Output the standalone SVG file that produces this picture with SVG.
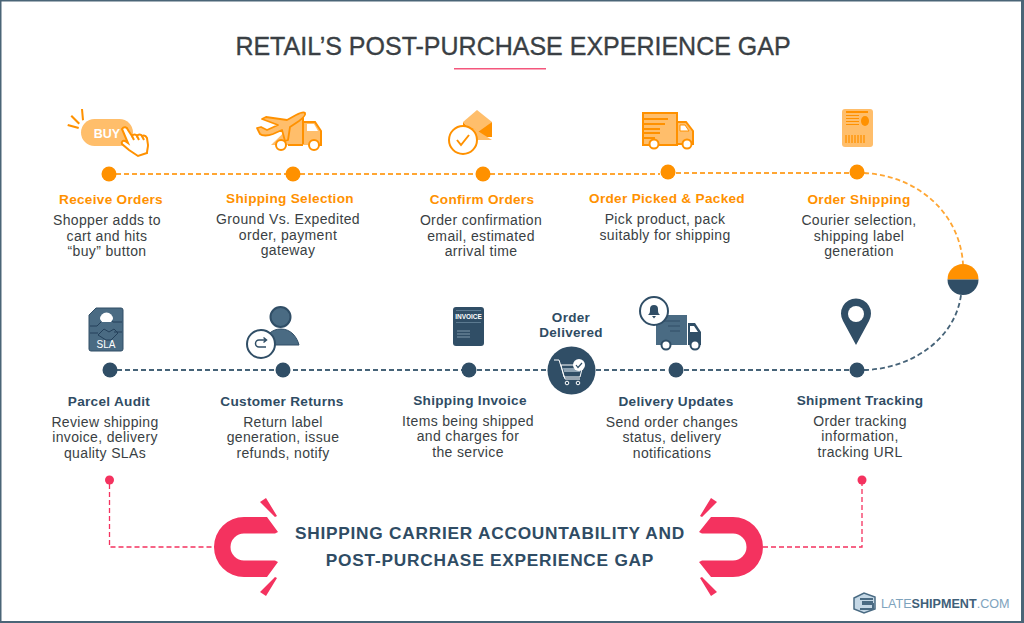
<svg xmlns="http://www.w3.org/2000/svg" width="1024" height="623" viewBox="0 0 1024 623">
<style>
text{font-family:"Liberation Sans",Arial,sans-serif;text-anchor:middle}
.t{font-size:14px;fill:#3a3f44;letter-spacing:.35px}
.ho{font-size:13.600px;font-weight:bold;fill:#ff9100;letter-spacing:.3px}
.hb{font-size:13.600px;font-weight:bold;fill:#2f4c64;letter-spacing:.3px}
.o{fill:#ff9100}.ol{fill:#ffbe6b}.n{fill:#304e66}.nl{fill:#4a6b83}
.r{fill:#f4325f}
.sto{fill:none;stroke:#ff9100;stroke-width:2}
.stw{fill:#fff;stroke:#ff9100;stroke-width:2}
.dash-o{fill:none;stroke:#ffa633;stroke-width:1.800;stroke-dasharray:5 3}
.dash-n{fill:none;stroke:#466378;stroke-width:1.800;stroke-dasharray:5 3}
.dash-r{fill:none;stroke:#f4325f;stroke-width:1.300;stroke-dasharray:5 3}
</style>
<rect width="1024" height="623" fill="#fff"/>
<path d="M0 0H1024V623H0Z M1.500 1.500V621H1021V1.500Z" fill="#4a6577" fill-rule="evenodd"/>
<text x="513" y="55" font-size="25" fill="#3a3f44" stroke="#3a3f44" stroke-width=".35" id="title">RETAIL’S POST-PURCHASE EXPERIENCE GAP</text>
<rect x="454" y="68" width="92" height="1.500" fill="#f4567c"/>

<g id="connectors">
<path class="dash-o" d="M116 174H476M490 174H660M676 173H850M864 173C920 176 960 215 963 264"/>
<path class="dash-n" d="M117 370H548M596 370H668M684 370H850M864 370C910 369 955 340 961 295"/>
<path class="dash-r" d="M109.500 484V547H214M763 547H862V484"/>
</g>

<g id="n-receive">
<circle class="o" cx="109" cy="174" r="7.500"/>
<rect x="81" y="119" width="52" height="27" rx="13.500" class="ol"/>
<text x="107" y="138" font-size="12.500" font-weight="bold" fill="#fff">BUY</text>
<path class="o" d="M68 124l11 3-.6 2-11-3zM72 115l8 8-1.500 1.500-8-8zM81 109l2 0 1 11-2 .5z"/>
<path class="stw" d="M122 129c2-3 5-2 6 1l4 6c1-2 4-2 5 0 1-2 4-2 5 0 2-1 4 0 5 2l1 7c0 3-1 5-1 8l-9 3-9-6-7-6c-1-2 1-4 3-3l3 2z"/>
<path class="sto" d="M132 136l2 4M137 136l2 4M142 136l2 4"/>
</g>
<g id="n-selection">
<circle class="o" cx="293" cy="174" r="7.500"/>
<path class="ol" d="M271 145L303 114V145Z"/>
<path class="ol" d="M303 122H315L321 132V145H303Z"/>
<path class="sto" d="M303 116V144M303 122H315L321 131V145H316M303 145H288"/>
<path d="M307 124H314L318 131H307Z" fill="#fff"/>
<circle class="stw" cx="281" cy="145" r="5"/><circle class="stw" cx="314" cy="145" r="5"/>
<path d="M257 128l4-1 6 3 11-5-16-6 4-2 21 3 9-5c4-2 8-3 9-2 1 2-2 5-6 8l-9 6-2 13-3 1-3-11-9 4c-5 2-11 2-13 0z" fill="#ffbe6b" stroke="#ff9100" stroke-width="1.800" stroke-linejoin="round"/>
</g>
<g id="n-confirm">
<circle class="o" cx="483" cy="174" r="7.500"/>
<path class="ol" d="M463 122L477 110 492 122 477 137Z"/>
<path class="o" d="M463 122L477 137H492V122L478 132 473 128 463 136Z"/>
<path fill="#ffbe6b" d="M473 128l19 12h-19z"/>
<circle class="stw" cx="463" cy="140" r="14"/>
<path class="sto" d="M457 140l4 5 8-10"/>
</g>
<g id="n-packed">
<circle class="o" cx="668" cy="172" r="7.500"/>
<rect x="643" y="113" width="34" height="32" class="ol" stroke="#ff9100" stroke-width="2"/>
<path class="ol" d="M677 122H686L693 131V144H677Z"/>
<path class="sto" d="M677 122H686L693 131V144H677Z"/>
<path d="M680 125H685L689 131H680Z" fill="#fff" stroke="#ff9100"/>
<path class="o" d="M643 118H668V120H643ZM643 123H665V125H643ZM643 128H660V130H643ZM643 132H660V134H643ZM643 137H655V139H643Z"/>
<circle class="stw" cx="654" cy="144" r="4.500"/><circle class="stw" cx="687" cy="144" r="4.500"/>
</g>
<g id="n-shipping">
<circle class="o" cx="857" cy="172" r="7.500"/>
<rect x="842" y="109" width="31" height="38" rx="3" class="ol"/>
<path class="o" d="M846 111H868V113H846ZM846 115H859V116H846ZM846 118H859V119H846ZM846 121H859V122H846ZM846 124H859V125H846Z"/>
<ellipse class="o" cx="865" cy="121" rx="4" ry="5"/>
<path class="sto" d="M846 135V143M849 135V143M852 135V143M855 135V143M858 135V143M861 135V143M864 135V143" style="stroke-width:1.300"/>
</g>

<g id="n-switch">
<path class="o" d="M947.500 279.500A15.500 15.500 0 0 1 978.500 279.500Z"/>
<path class="n" d="M947.500 279.500A15.500 15.500 0 0 0 978.500 279.500Z"/>
</g>

<g id="n-audit">
<circle class="n" cx="110" cy="370" r="7.500"/>
<path class="nl" d="M96 308H121a2 2 0 0 1 2 2V349a2 2 0 0 1-2 2H91a2 2 0 0 1-2-2V315Z" stroke="#304e66"/>
<path d="M90 326H97L102 321M122 322H113L109 319M90 333H98M122 332H114" fill="none" stroke="#24405a" stroke-width="1"/>
<path d="M100 319a6.500 6.500 0 0 1 13 0l-2 3H102z" fill="#fff"/>
<path d="M98 335l6-6 5 3 5-3 4 4-7 7-5 0z" fill="none" stroke="#24405a" stroke-width="1"/>
<text x="106" y="348" font-size="10" fill="#fff">SLA</text>
</g>
<g id="n-returns">
<circle class="n" cx="283" cy="370" r="7.500"/>
<circle class="nl" cx="280.500" cy="317" r="10" stroke="#304e66" stroke-width="2"/>
<path class="nl" d="M263 345C265 335 272 329 281 329 291 329 297 337 299 345Z" stroke="#304e66" stroke-width="1"/>
<circle cx="261" cy="344" r="14" fill="#fff" stroke="#304e66" stroke-width="2"/>
<path d="M266 340H259a3.500 3.500 0 0 0 0 7H266M263.500 337.500L266.500 340 263.500 342.500" fill="none" stroke="#304e66" stroke-width="1.500"/>
</g>
<g id="n-invoice">
<circle class="n" cx="469" cy="370" r="7.500"/>
<rect x="453" y="307" width="31" height="39" rx="3" class="n"/>
<text x="468.500" y="319" font-size="6.500" font-weight="bold" fill="#fff">INVOICE</text>
<path d="M456 310.500H481M456 322.500H481" stroke="#5c7a90" stroke-width="1"/>
<path d="M457 331H470M457 334H470M457 337H470" stroke="#7f98aa" stroke-width="1"/>
</g>
<g id="n-delivered">
<text class="hb" x="571" y="322" style="font-size:13.500px">Order</text>
<text class="hb" x="571" y="337" style="font-size:13.500px">Delivered</text>
<circle class="n" cx="571.500" cy="370.500" r="24"/>
<path d="M554 360H559L565 379H580" fill="none" stroke="#fff" stroke-width="1"/>
<path d="M561 365H583L580 377H564Z" fill="none" stroke="#fff" stroke-width="1"/>
<path d="M563 368H581L580 372H564Z" fill="#8ea3b3"/>
<circle cx="567" cy="383" r="1.800" fill="none" stroke="#fff"/><circle cx="578" cy="383" r="1.800" fill="none" stroke="#fff"/>
<circle cx="579" cy="365" r="6" fill="#fff"/>
<path d="M576 365l2 2.500 4-4.500" fill="none" stroke="#304e66" stroke-width="1.200"/>
</g>
<g id="n-updates">
<circle class="n" cx="676" cy="370" r="7.500"/>
<path class="nl" d="M656 315H687V345H656Z"/>
<path class="n" d="M688 323H695L701 332V345H688Z"/>
<path d="M690 326H694L698 332H690Z" fill="#fff"/>
<path d="M664 321H680M668 326H680M670 331H680" stroke="#304e66" stroke-width="1"/>
<circle cx="666" cy="345" r="4.500" fill="#fff" stroke="#304e66" stroke-width="2"/>
<circle cx="695" cy="345" r="4.500" fill="#fff" stroke="#304e66" stroke-width="2"/>
<circle cx="654" cy="311" r="14" fill="#fff" stroke="#304e66" stroke-width="2"/>
<path class="n" d="M648 315c2-2 2-3 2-6a4 4 0 0 1 8 0c0 3 0 4 2 6zM652 316h4l-2 2.500z"/>
</g>
<g id="n-tracking">
<circle class="n" cx="857" cy="370" r="7.500"/>
<path class="n" d="M856 345L843 321A15 15 0 1 1 869 321Z"/>
<circle cx="856" cy="314" r="8" fill="#fff"/>
</g>

<g id="n-labels-top">
<text class="ho" x="111" y="204">Receive Orders</text>
<text class="t" x="107" y="225">Shopper adds to</text><text class="t" x="107" y="241">cart and hits</text><text class="t" x="107" y="256">“buy” button</text>
<text class="ho" x="290" y="203">Shipping Selection</text>
<text class="t" x="288" y="224">Ground Vs. Expedited</text><text class="t" x="288" y="240">order, payment</text><text class="t" x="288" y="255">gateway</text>
<text class="ho" x="482" y="204">Confirm Orders</text>
<text class="t" x="481" y="225">Order confirmation</text><text class="t" x="481" y="241">email, estimated</text><text class="t" x="481" y="256">arrival time</text>
<text class="ho" x="667" y="203">Order Picked &amp; Packed</text>
<text class="t" x="665" y="224">Pick product, pack</text><text class="t" x="665" y="240">suitably for shipping</text>
<text class="ho" x="859" y="204">Order Shipping</text>
<text class="t" x="859" y="225">Courier selection,</text><text class="t" x="859" y="241">shipping label</text><text class="t" x="859" y="256">generation</text>
</g>
<g id="n-labels-bottom">
<text class="hb" x="109" y="406">Parcel Audit</text>
<text class="t" x="105" y="427">Review shipping</text><text class="t" x="105" y="442">invoice, delivery</text><text class="t" x="105" y="458">quality SLAs</text>
<text class="hb" x="282" y="406">Customer Returns</text>
<text class="t" x="283" y="427">Return label</text><text class="t" x="283" y="442">generation, issue</text><text class="t" x="283" y="458">refunds, notify</text>
<text class="hb" x="470" y="405">Shipping Invoice</text>
<text class="t" x="468" y="426">Items being shipped</text><text class="t" x="468" y="441">and charges for</text><text class="t" x="468" y="457">the service</text>
<text class="hb" x="676" y="406">Delivery Updates</text>
<text class="t" x="672" y="427">Send order changes</text><text class="t" x="672" y="442">status, delivery</text><text class="t" x="672" y="458">notifications</text>
<text class="hb" x="860" y="405">Shipment Tracking</text>
<text class="t" x="860" y="426">Order tracking</text><text class="t" x="860" y="441">information,</text><text class="t" x="860" y="457">tracking URL</text>
</g>

<g id="n-gap">
<circle class="r" cx="109.500" cy="480" r="4.500"/>
<circle class="r" cx="862" cy="480" r="4.500"/>
<path class="r" d="M267 517H244A30 30 0 0 0 244 577H267L278 562 275 560.500H244A13.500 13.500 0 0 1 244 533.500H275L278 532Z"/>
<path class="r" d="M260 502L266 498 277 516 275 517ZM260 592L266 596 277 578 275 577Z"/>
<path class="r" d="M711 517H733A30 30 0 0 1 733 577H711L699 562 702 560.500H733A13.500 13.500 0 0 0 733 533.500H702L699 532Z"/>
<path class="r" d="M717 502L711 498 700 516 702 517ZM717 592L711 596 700 578 702 577Z"/>
<text x="490" y="539" font-size="17.300" font-weight="bold" fill="#2f4c64" letter-spacing=".75">SHIPPING CARRIER ACCOUNTABILITY AND</text>
<text x="490" y="566" font-size="17.300" font-weight="bold" fill="#2f4c64" letter-spacing=".75">POST-PURCHASE EXPERIENCE GAP</text>
</g>

<g id="n-logo">
<path d="M854 598L864 593 875 597V609L864 613 854 609Z" fill="#c5d8e6" stroke="#4a6b83" stroke-width="1.500"/>
<path d="M860 599H873M873 602H863V604H873V609H860" fill="none" stroke="#4a6b83" stroke-width="2"/>
<text x="881" y="608" font-size="12.600" fill="#7ea3bd" style="text-anchor:start">LATE<tspan font-weight="bold" fill="#3f6079">SHIPMENT</tspan>.COM</text>
</g>
</svg>
